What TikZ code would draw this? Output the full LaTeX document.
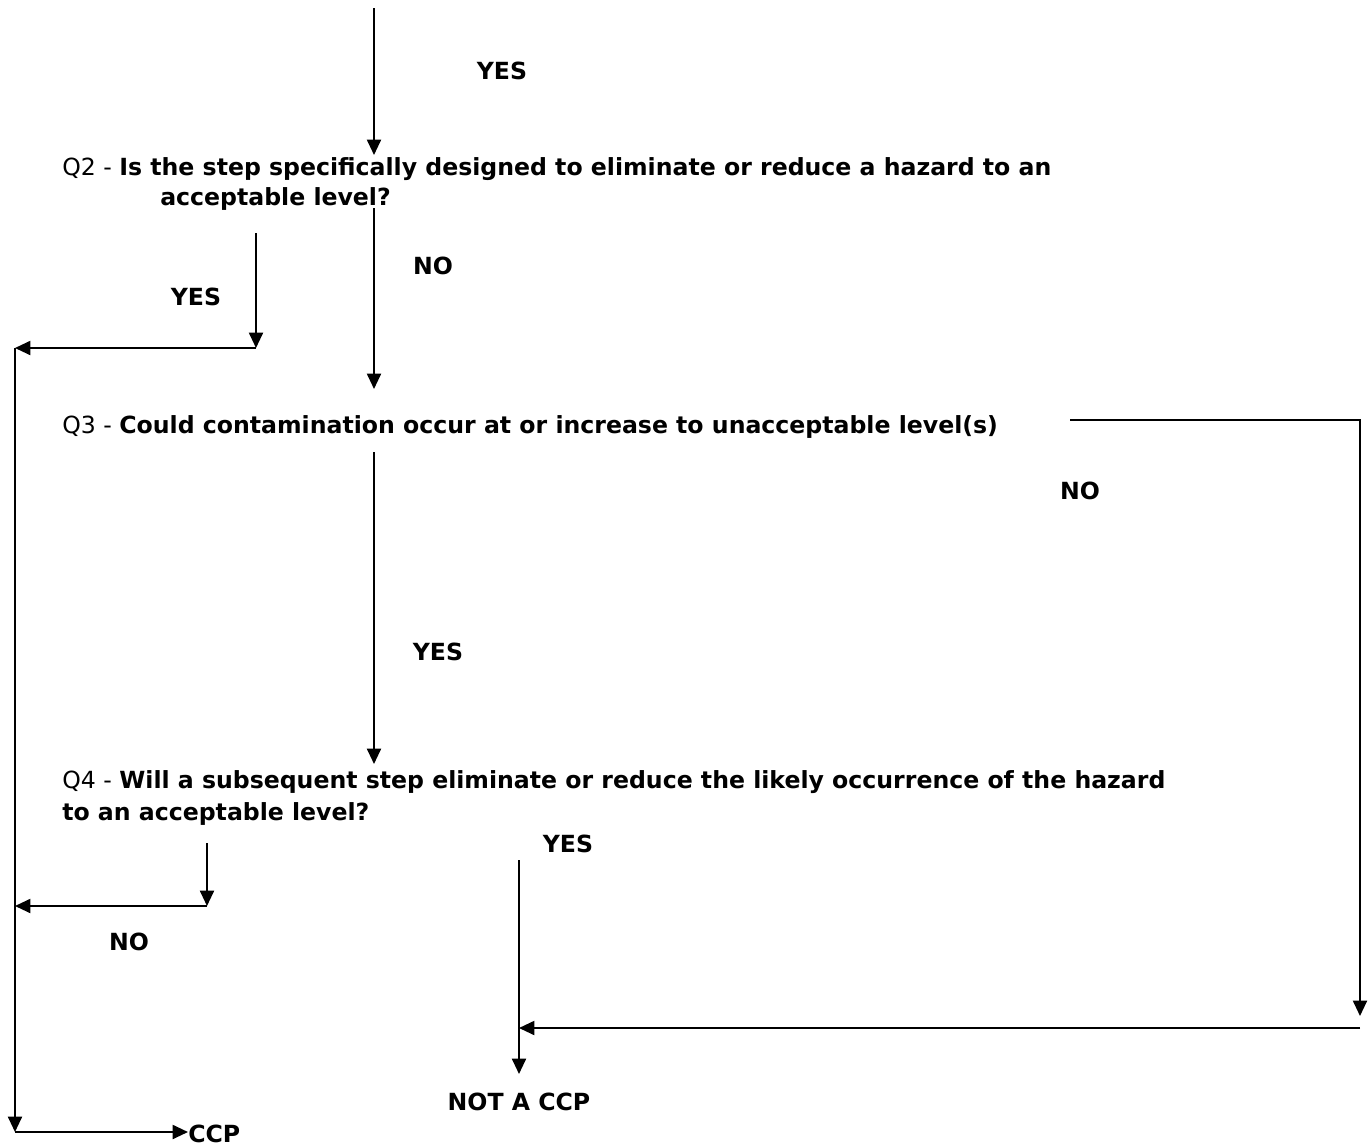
\documentclass[tikz,border=0pt]{standalone}
\usepackage{fontspec}
\setmainfont{DejaVu Sans}
\usetikzlibrary{arrows.meta, positioning}

\begin{document}
\begin{tikzpicture}[x=0.75pt, y=-0.75pt,
    qtext/.style={anchor=west, inner sep=0pt, text height=14pt, text depth=4pt,
                  font=\fontsize{17.7}{21}\selectfont},
    lbl/.style={inner sep=0pt, font=\fontsize{17.7}{21}\selectfont\bfseries},
    arr/.style={-{Triangle[length=11.5pt, width=10.5pt]}, line width=1.45pt}
  ]
    \useasboundingbox (0,0) rectangle (1372,1146);

    % questions
    \node[qtext] (q2)  at (62,169)  {Q2 - \textbf{Is the step specifically designed to eliminate or reduce a hazard to an}};
    \node[qtext] (q2b) at (160,199) {\textbf{acceptable level?}};
    \node[qtext] (q3)  at (62,427)  {Q3 - \textbf{Could contamination occur at or increase to unacceptable level(s)}};
    \node[qtext] (q4)  at (62,782)  {Q4 - \textbf{Will a subsequent step eliminate or reduce the likely occurrence of the hazard}};
    \node[qtext] (q4b) at (62,814)  {\textbf{to an acceptable level?}};

    % answers
    \node[lbl] (yes1)   at (502,71)   {YES};
    \node[lbl] (no1)    at (433,266)  {NO};
    \node[lbl] (yes2)   at (196,297)  {YES};
    \node[lbl] (no2)    at (1080,491) {NO};
    \node[lbl] (yes3)   at (438,652)  {YES};
    \node[lbl] (yes4)   at (568,844)  {YES};
    \node[lbl] (no3)    at (129,942)  {NO};
    \node[lbl] (notccp) at (519,1102) {NOT A CCP};
    \node[lbl, anchor=west] (ccp) at (188,1134) {CCP};

    % bends and loose ends
    \coordinate (top)      at (374,8);
    \coordinate (q2in)     at (374,155);
    \coordinate (q2no)     at (374,208);
    \coordinate (q3in)     at (374,389);
    \coordinate (q2yes)    at (256,233);
    \coordinate (q2yesend) at (256,348);
    \coordinate (left1)    at (15,348);
    \coordinate (leftend)  at (15,1132);
    \coordinate (q3yes)    at (374,452);
    \coordinate (q4in)     at (374,764);
    \coordinate (q3no)     at (1070,420);
    \coordinate (rtop)     at (1360,420);
    \coordinate (rbot)     at (1360,1016);
    \coordinate (rret)     at (1360,1028);
    \coordinate (midjoin)  at (519,1028);
    \coordinate (q4yes)    at (519,860);
    \coordinate (q4yesend) at (519,1074);
    \coordinate (q4no)     at (207,843);
    \coordinate (q4noend)  at (207,906);
    \coordinate (left2)    at (15,906);

    % arrows
    \draw[arr] (top) -- (q2in);
    \draw[arr] (q2no) -- (q3in);
    \draw[arr] (q2yes) -- (q2yesend);
    \draw[arr] (q2yesend) -- (left1);
    \draw[arr] (left1) -- (leftend);
    \draw[arr] (leftend) -- (leftend -| ccp.west);
    \draw[arr] (q3yes) -- (q4in);
    \draw[arr] (q3no) -- (rtop) -- (rbot);
    \draw[arr] (rret) -- (midjoin);
    \draw[arr] (q4yes) -- (q4yesend);
    \draw[arr] (q4no) -- (q4noend);
    \draw[arr] (q4noend) -- (left2);
  \end{tikzpicture}
\end{document}
